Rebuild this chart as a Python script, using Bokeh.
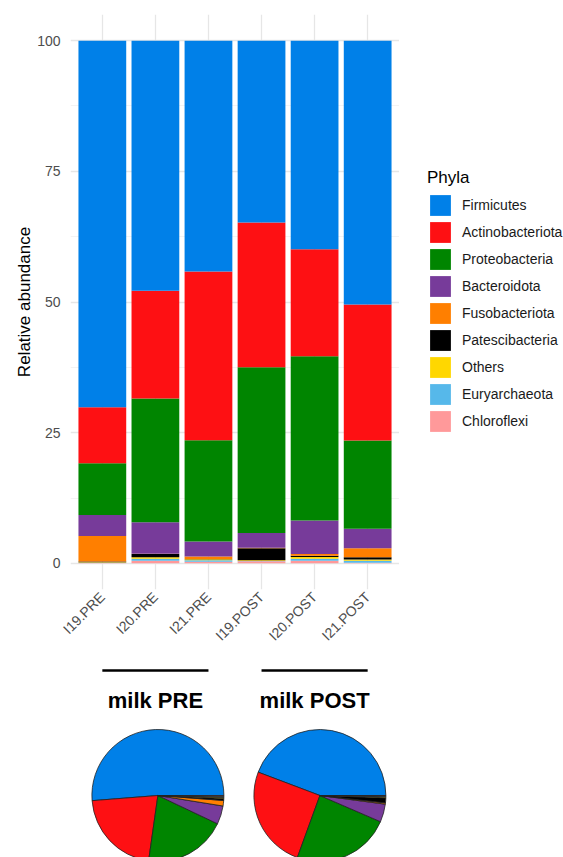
import math
from bokeh.plotting import figure
from bokeh.models import FactorRange, Range1d, FixedTicker, Legend, LegendItem, ColumnDataSource
from bokeh.layouts import column, row
from bokeh.transform import dodge
from bokeh.core.properties import value
from bokeh.embed import file_html
from bokeh.resources import INLINE

# ---------------- data ----------------
samples = ["I19.PRE", "I20.PRE", "I21.PRE", "I19.POST", "I20.POST", "I21.POST"]
phyla = ["Firmicutes", "Actinobacteriota", "Proteobacteria", "Bacteroidota",
         "Fusobacteriota", "Patescibacteria", "Others", "Euryarchaeota", "Chloroflexi"]
colors = ["#0080E8", "#FE1013", "#008500", "#773B9A", "#FF7F00",
          "#000000", "#FFD700", "#56B8EA", "#FF999A"]

firmicutes       = [70.15, 47.85, 44.15, 34.8, 39.9, 50.5]
actinobacteriota = [10.7, 20.6, 32.3, 27.7, 20.5, 26.0]
proteobacteria   = [9.9, 23.7, 19.35, 31.7, 31.4, 16.9]
bacteroidota     = [4.0, 6.0, 2.9, 2.8, 6.4, 3.7]
fusobacteriota   = [4.9, 0.05, 0.45, 0.1, 0.35, 1.75]
patescibacteria  = [0.15, 0.65, 0.05, 2.3, 0.25, 0.4]
others           = [0.1, 0.25, 0.2, 0.15, 0.3, 0.25]
euryarchaeota    = [0.05, 0.4, 0.3, 0.05, 0.4, 0.4]
chloroflexi      = [0.05, 0.5, 0.3, 0.4, 0.5, 0.1]

y_ticks = [0, 25, 50, 75, 100]

groups = ["milk PRE", "milk POST"]
pie_pre  = [51.25, 21.5, 20.2, 4.5, 1.35, 0.5, 0.25, 0.25, 0.2]
pie_post = [44.25, 25.2, 24.05, 4.4, 0.3, 1.25, 0.25, 0.2, 0.1]

FONT = "Liberation Sans"

# ---------------- bar chart ----------------
series = [firmicutes, actinobacteriota, proteobacteria, bacteroidota, fusobacteriota,
          patescibacteria, others, euryarchaeota, chloroflexi]
data = {"samples": samples}
for name, vals in zip(phyla, series):
    data[name] = vals
src = ColumnDataSource(data)

x_range = FactorRange(factors=samples, range_padding=0.1, range_padding_units="absolute")
p = figure(width=399, height=658, x_range=x_range, y_range=Range1d(-5, 105),
           output_backend="svg", toolbar_location=None,
           min_border_left=70, min_border_right=0, min_border_top=14, min_border_bottom=69)
p.outline_line_color = None
p.background_fill_color = "white"
p.border_fill_color = "white"

renderers = p.vbar_stack(list(reversed(phyla)), x="samples", width=0.9, source=src,
                         fill_color=list(reversed(colors)), line_color=None)

# axes
p.yaxis.ticker = FixedTicker(ticks=y_ticks, minor_ticks=[12.5, 37.5, 62.5, 87.5])
for ax in [p.xaxis[0], p.yaxis[0]]:
    ax.axis_line_color = None
    ax.major_tick_line_color = None
    ax.minor_tick_line_color = None
    ax.major_label_text_font = FONT
    ax.major_label_text_font_size = "14px"
    ax.major_label_text_color = "#4D4D4D"
    ax.major_tick_out = 0
    ax.major_tick_in = 0
p.yaxis.major_label_standoff = 6
p.xaxis.major_label_standoff = 5
p.xaxis.major_label_orientation = math.pi / 4
p.yaxis.axis_label = "Relative abundance"
p.yaxis.axis_label_text_font = FONT
p.yaxis.axis_label_text_font_size = "17px"
p.yaxis.axis_label_text_font_style = "normal"
p.yaxis.axis_label_text_color = "#000000"
p.yaxis.axis_label_standoff = 0

p.ygrid.grid_line_color = "#E6E6E6"
p.ygrid.grid_line_width = 1.3
p.ygrid.minor_grid_line_color = "#F0F0F0"
p.ygrid.minor_grid_line_width = 0.8
p.xgrid.grid_line_color = "#E6E6E6"
p.xgrid.grid_line_width = 1.3

# ---------------- legend panel ----------------
lf = figure(width=164, height=658, x_range=Range1d(0, 1), y_range=Range1d(0, 1),
            output_backend="svg", toolbar_location=None,
            x_axis_location=None, y_axis_location=None,
            min_border_left=0, min_border_right=0, min_border_top=0, min_border_bottom=0)
lf.outline_line_color = None
lf.grid.visible = False
lf.background_fill_color = "white"
lf.border_fill_color = "white"
# key-only renderers (their single placeholder lies outside the visible range)
key_renderers = [lf.vbar(x=[5], top=[6], bottom=[5], width=0.9, fill_color=c, line_color=None)
                 for c in colors]

legend = Legend(items=[LegendItem(label=ph, renderers=[r]) for ph, r in zip(phyla, key_renderers)],
                location=(28, 155), title="Phyla")
legend.title_text_font = FONT
legend.title_text_font_size = "17px"
legend.title_text_font_style = "normal"
legend.title_text_color = "#000000"
legend.title_standoff = 4
legend.label_text_font = FONT
legend.label_text_font_size = "14px"
legend.label_text_color = "#1A1A1A"
legend.label_standoff = 9
legend.glyph_width = 26
legend.glyph_height = 26
legend.spacing = 1
legend.padding = 0
legend.margin = 0
legend.border_line_color = None
legend.background_fill_alpha = 0
lf.add_layout(legend)

# ---------------- group labels and pies ----------------
q = figure(width=563, height=199, x_range=x_range, y_range=Range1d(0, 199),
           output_backend="svg", toolbar_location=None,
           x_axis_location=None, y_axis_location=None,
           min_border_left=70, min_border_right=164, min_border_top=0, min_border_bottom=0)
q.outline_line_color = None
q.grid.visible = False
q.background_fill_color = "white"
q.border_fill_color = "white"

gsrc = ColumnDataSource(dict(start=["I19.PRE", "I19.POST"], end=["I21.PRE", "I21.POST"],
                             mid=["I20.PRE", "I20.POST"], label=groups, yl=[187, 187], yt=[157, 157]))
q.segment(x0="start", x1="end", y0="yl", y1="yl", source=gsrc, line_color="black", line_width=2.7)
q.text(x=dodge("mid", 0.0, range=x_range), y="yt", text="label", source=gsrc,
       text_font=value(FONT), text_font_size="22px", text_font_style="bold",
       text_align="center", text_baseline="alphabetic", text_color="black")

def pie_source(vals, mid):
    total = sum(vals)
    starts, ends = [], []
    acc = 0.0
    for v in vals:
        starts.append(2 * math.pi * acc / total)
        acc += v
        ends.append(2 * math.pi * acc / total)
    return ColumnDataSource(dict(mid=[mid] * len(vals), y=[62] * len(vals),
                                 start=starts, end=ends, color=colors, phylum=phyla))

for vals, mid, off in [(pie_pre, "I20.PRE", 0.047), (pie_post, "I20.POST", 0.1)]:
    q.wedge(x=dodge("mid", off, range=x_range), y="y", radius=66, radius_units="screen",
            start_angle="start", end_angle="end", direction="anticlock",
            fill_color="color", line_color="#222222", line_width=0.8, source=pie_source(vals, mid))

layout = column(row(p, lf, spacing=0), q, spacing=0)
open("out.html", "w").write(file_html(layout, INLINE))
